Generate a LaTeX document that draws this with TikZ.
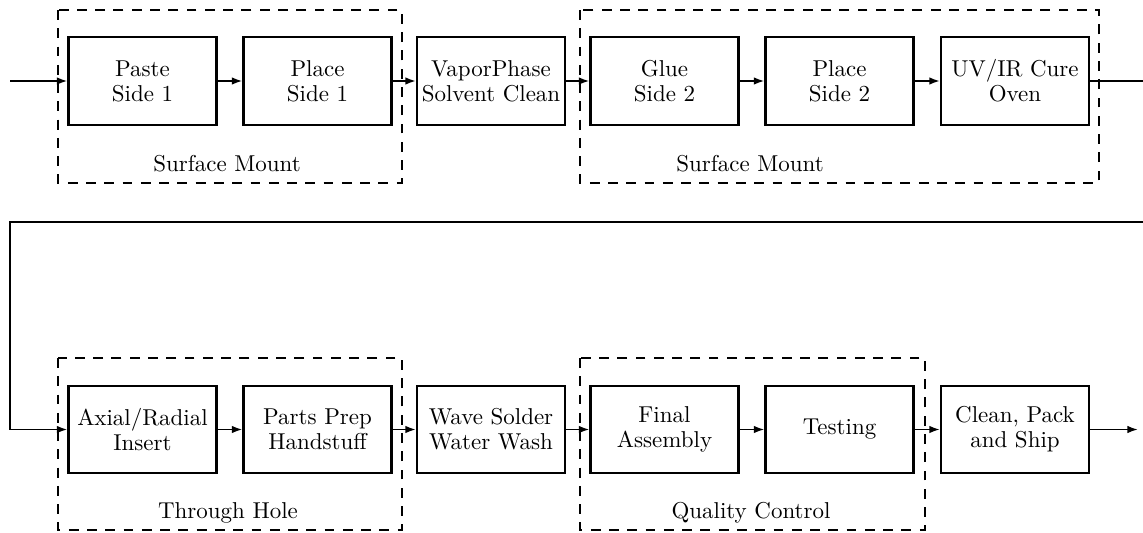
\documentclass[tikz,border=0pt]{standalone}
\usepackage{tikz}
\usetikzlibrary{arrows.meta}

\begin{document}
\begin{tikzpicture}[
      x=0.015cm, y=-0.015cm,
      proc/.style={draw, line width=0.9pt,
                   minimum width=2.22cm, minimum height=1.31cm,
                   inner sep=1.5pt, align=center,
                   font=\fontsize{9.8}{10.7}\selectfont},
      grp/.style={draw, line width=0.75pt, dash pattern=on 4.2pt off 3.6pt},
      grplabel/.style={font=\fontsize{9.8}{10.7}\selectfont},
      flow/.style={line width=0.75pt, -{Latex[length=4.5pt,width=3.2pt]}}]
    \useasboundingbox (0,0) rectangle (1143,533);
    % Groups
    \draw[grp] (58,10)  rectangle (402,183);
    \draw[grp] (580,10) rectangle (1099,183);
    \draw[grp] (58,358) rectangle (402,530);
    \draw[grp] (580,358) rectangle (925,530);
    \node[grplabel] (lsm1) at (227,164) {Surface Mount};
    \node[grplabel] (lsm2) at (750,164) {Surface Mount};
    \node[grplabel] (lth)  at (228,513) {Through Hole};
    \node[grplabel] (lqc)  at (751,513) {Quality Control};
    % Upper line
    \node[proc] (paste1) at (142.5,81) {Paste\\Side 1};
    \node[proc] (place1) at (317.5,81) {Place\\Side 1};
    \node[proc] (vapor)  at (491,81)   {VaporPhase\\Solvent Clean};
    \node[proc] (glue2)  at (664.5,81) {Glue\\Side 2};
    \node[proc] (place2) at (839.5,81) {Place\\Side 2};
    \node[proc] (cure)   at (1015,81)  {UV/IR Cure\\Oven};
    % Lower line
    \node[proc] (axial)  at (142.5,429.5) {Axial/Radial\\Insert};
    \node[proc] (prep)   at (317.5,429.5) {Parts Prep\\Handstuff};
    \node[proc] (wave)   at (491,429.5)   {Wave Solder\\Water Wash};
    \node[proc] (final)  at (664.5,429.5) {Final\\Assembly};
    \node[proc] (test)   at (839.5,429.5) {Testing};
    \node[proc] (ship)   at (1015,429.5)  {Clean, Pack\\and Ship};
    % Ends and wrap-around
    \coordinate (in)    at (10,81);
    \coordinate (wrapR) at (1160,222);
    \coordinate (wrapL) at (10,222);
    \coordinate (out)   at (1138,429.5);
    % Flow
    \draw[flow] (in) -- (paste1);
    \draw[flow] (paste1) -- (place1);
    \draw[flow] (place1) -- (vapor);
    \draw[flow] (vapor) -- (glue2);
    \draw[flow] (glue2) -- (place2);
    \draw[flow] (place2) -- (cure);
    \draw[flow] (cure.east) -| (wrapR) -- (wrapL) |- (axial.west);
    \draw[flow] (axial) -- (prep);
    \draw[flow] (prep) -- (wave);
    \draw[flow] (wave) -- (final);
    \draw[flow] (final) -- (test);
    \draw[flow] (test) -- (ship);
    \draw[flow] (ship) -- (out);
  \end{tikzpicture}
\end{document}
